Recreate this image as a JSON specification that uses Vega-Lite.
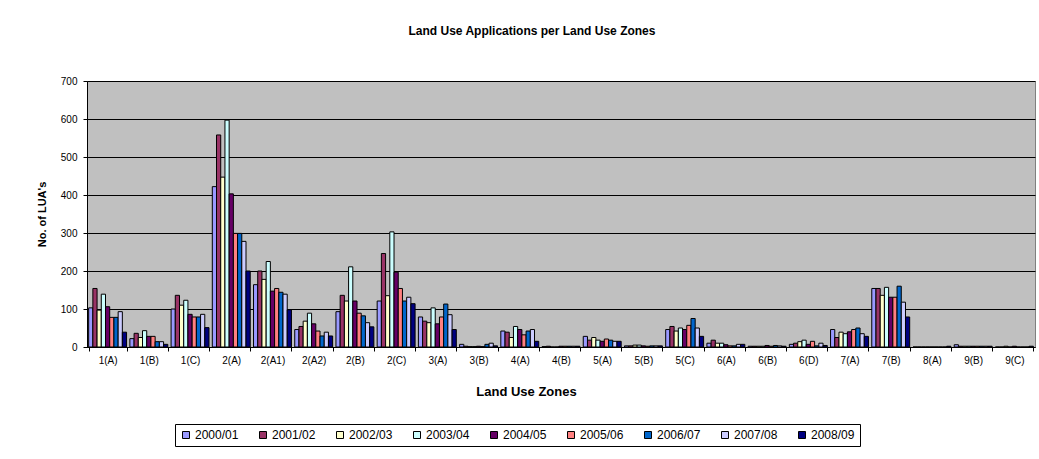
{
  "$schema": "https://vega.github.io/schema/vega-lite/v6.json",
  "width": 948,
  "height": 266,
  "autosize": {"type": "none"},
  "padding": {"left": 87, "top": 81, "right": 4, "bottom": 112},
  "background": "white",
  "title": {"text": "Land Use Applications per Land Use Zones", "fontSize": 12, "fontWeight": "bold", "color": "black", "offset": 38, "dx": -29, "anchor": "middle", "frame": "group"},
  "data": {"values": [
    {"zone":"1(A)","year":"2000/01","count":103},{"zone":"1(A)","year":"2001/02","count":154},{"zone":"1(A)","year":"2002/03","count":97},{"zone":"1(A)","year":"2003/04","count":139},{"zone":"1(A)","year":"2004/05","count":106},{"zone":"1(A)","year":"2005/06","count":78},{"zone":"1(A)","year":"2006/07","count":78},{"zone":"1(A)","year":"2007/08","count":93},{"zone":"1(A)","year":"2008/09","count":39},
    {"zone":"1(B)","year":"2000/01","count":22},{"zone":"1(B)","year":"2001/02","count":36},{"zone":"1(B)","year":"2002/03","count":25},{"zone":"1(B)","year":"2003/04","count":43},{"zone":"1(B)","year":"2004/05","count":28},{"zone":"1(B)","year":"2005/06","count":28},{"zone":"1(B)","year":"2006/07","count":14},{"zone":"1(B)","year":"2007/08","count":14},{"zone":"1(B)","year":"2008/09","count":7},
    {"zone":"1(C)","year":"2000/01","count":100},{"zone":"1(C)","year":"2001/02","count":136},{"zone":"1(C)","year":"2002/03","count":110},{"zone":"1(C)","year":"2003/04","count":123},{"zone":"1(C)","year":"2004/05","count":86},{"zone":"1(C)","year":"2005/06","count":79},{"zone":"1(C)","year":"2006/07","count":79},{"zone":"1(C)","year":"2007/08","count":86},{"zone":"1(C)","year":"2008/09","count":51},
    {"zone":"2(A)","year":"2000/01","count":422},{"zone":"2(A)","year":"2001/02","count":558},{"zone":"2(A)","year":"2002/03","count":447},{"zone":"2(A)","year":"2003/04","count":597},{"zone":"2(A)","year":"2004/05","count":403},{"zone":"2(A)","year":"2005/06","count":299},{"zone":"2(A)","year":"2006/07","count":299},{"zone":"2(A)","year":"2007/08","count":278},{"zone":"2(A)","year":"2008/09","count":200},
    {"zone":"2(A1)","year":"2000/01","count":164},{"zone":"2(A1)","year":"2001/02","count":200},{"zone":"2(A1)","year":"2002/03","count":178},{"zone":"2(A1)","year":"2003/04","count":225},{"zone":"2(A1)","year":"2004/05","count":147},{"zone":"2(A1)","year":"2005/06","count":154},{"zone":"2(A1)","year":"2006/07","count":144},{"zone":"2(A1)","year":"2007/08","count":139},{"zone":"2(A1)","year":"2008/09","count":98},
    {"zone":"2(A2)","year":"2000/01","count":46},{"zone":"2(A2)","year":"2001/02","count":54},{"zone":"2(A2)","year":"2002/03","count":68},{"zone":"2(A2)","year":"2003/04","count":89},{"zone":"2(A2)","year":"2004/05","count":61},{"zone":"2(A2)","year":"2005/06","count":42},{"zone":"2(A2)","year":"2006/07","count":29},{"zone":"2(A2)","year":"2007/08","count":39},{"zone":"2(A2)","year":"2008/09","count":29},
    {"zone":"2(B)","year":"2000/01","count":93},{"zone":"2(B)","year":"2001/02","count":136},{"zone":"2(B)","year":"2002/03","count":121},{"zone":"2(B)","year":"2003/04","count":211},{"zone":"2(B)","year":"2004/05","count":121},{"zone":"2(B)","year":"2005/06","count":89},{"zone":"2(B)","year":"2006/07","count":82},{"zone":"2(B)","year":"2007/08","count":64},{"zone":"2(B)","year":"2008/09","count":53},
    {"zone":"2(C)","year":"2000/01","count":121},{"zone":"2(C)","year":"2001/02","count":246},{"zone":"2(C)","year":"2002/03","count":135},{"zone":"2(C)","year":"2003/04","count":303},{"zone":"2(C)","year":"2004/05","count":197},{"zone":"2(C)","year":"2005/06","count":154},{"zone":"2(C)","year":"2006/07","count":121},{"zone":"2(C)","year":"2007/08","count":131},{"zone":"2(C)","year":"2008/09","count":114},
    {"zone":"3(A)","year":"2000/01","count":79},{"zone":"3(A)","year":"2001/02","count":68},{"zone":"3(A)","year":"2002/03","count":64},{"zone":"3(A)","year":"2003/04","count":103},{"zone":"3(A)","year":"2004/05","count":61},{"zone":"3(A)","year":"2005/06","count":79},{"zone":"3(A)","year":"2006/07","count":113},{"zone":"3(A)","year":"2007/08","count":85},{"zone":"3(A)","year":"2008/09","count":46},
    {"zone":"3(B)","year":"2000/01","count":7},{"zone":"3(B)","year":"2001/02","count":2},{"zone":"3(B)","year":"2002/03","count":1},{"zone":"3(B)","year":"2003/04","count":1},{"zone":"3(B)","year":"2004/05","count":2},{"zone":"3(B)","year":"2005/06","count":1},{"zone":"3(B)","year":"2006/07","count":7},{"zone":"3(B)","year":"2007/08","count":10},{"zone":"3(B)","year":"2008/09","count":3},
    {"zone":"4(A)","year":"2000/01","count":42},{"zone":"4(A)","year":"2001/02","count":39},{"zone":"4(A)","year":"2002/03","count":25},{"zone":"4(A)","year":"2003/04","count":54},{"zone":"4(A)","year":"2004/05","count":46},{"zone":"4(A)","year":"2005/06","count":32},{"zone":"4(A)","year":"2006/07","count":42},{"zone":"4(A)","year":"2007/08","count":46},{"zone":"4(A)","year":"2008/09","count":15},
    {"zone":"4(B)","year":"2000/01","count":1},{"zone":"4(B)","year":"2001/02","count":2},{"zone":"4(B)","year":"2002/03","count":0},{"zone":"4(B)","year":"2003/04","count":0},{"zone":"4(B)","year":"2004/05","count":2},{"zone":"4(B)","year":"2005/06","count":2},{"zone":"4(B)","year":"2006/07","count":2},{"zone":"4(B)","year":"2007/08","count":2},{"zone":"4(B)","year":"2008/09","count":2},
    {"zone":"5(A)","year":"2000/01","count":28},{"zone":"5(A)","year":"2001/02","count":18},{"zone":"5(A)","year":"2002/03","count":25},{"zone":"5(A)","year":"2003/04","count":18},{"zone":"5(A)","year":"2004/05","count":15},{"zone":"5(A)","year":"2005/06","count":21},{"zone":"5(A)","year":"2006/07","count":18},{"zone":"5(A)","year":"2007/08","count":15},{"zone":"5(A)","year":"2008/09","count":15},
    {"zone":"5(B)","year":"2000/01","count":3},{"zone":"5(B)","year":"2001/02","count":3},{"zone":"5(B)","year":"2002/03","count":5},{"zone":"5(B)","year":"2003/04","count":5},{"zone":"5(B)","year":"2004/05","count":3},{"zone":"5(B)","year":"2005/06","count":2},{"zone":"5(B)","year":"2006/07","count":3},{"zone":"5(B)","year":"2007/08","count":3},{"zone":"5(B)","year":"2008/09","count":3},
    {"zone":"5(C)","year":"2000/01","count":46},{"zone":"5(C)","year":"2001/02","count":54},{"zone":"5(C)","year":"2002/03","count":42},{"zone":"5(C)","year":"2003/04","count":50},{"zone":"5(C)","year":"2004/05","count":46},{"zone":"5(C)","year":"2005/06","count":57},{"zone":"5(C)","year":"2006/07","count":75},{"zone":"5(C)","year":"2007/08","count":50},{"zone":"5(C)","year":"2008/09","count":28},
    {"zone":"6(A)","year":"2000/01","count":10},{"zone":"6(A)","year":"2001/02","count":18},{"zone":"6(A)","year":"2002/03","count":10},{"zone":"6(A)","year":"2003/04","count":10},{"zone":"6(A)","year":"2004/05","count":6},{"zone":"6(A)","year":"2005/06","count":3},{"zone":"6(A)","year":"2006/07","count":3},{"zone":"6(A)","year":"2007/08","count":7},{"zone":"6(A)","year":"2008/09","count":7},
    {"zone":"6(B)","year":"2000/01","count":2},{"zone":"6(B)","year":"2001/02","count":2},{"zone":"6(B)","year":"2002/03","count":2},{"zone":"6(B)","year":"2003/04","count":2},{"zone":"6(B)","year":"2004/05","count":4},{"zone":"6(B)","year":"2005/06","count":2},{"zone":"6(B)","year":"2006/07","count":4},{"zone":"6(B)","year":"2007/08","count":3},{"zone":"6(B)","year":"2008/09","count":2},
    {"zone":"6(D)","year":"2000/01","count":7},{"zone":"6(D)","year":"2001/02","count":10},{"zone":"6(D)","year":"2002/03","count":14},{"zone":"6(D)","year":"2003/04","count":18},{"zone":"6(D)","year":"2004/05","count":7},{"zone":"6(D)","year":"2005/06","count":15},{"zone":"6(D)","year":"2006/07","count":3},{"zone":"6(D)","year":"2007/08","count":10},{"zone":"6(D)","year":"2008/09","count":4},
    {"zone":"7(A)","year":"2000/01","count":46},{"zone":"7(A)","year":"2001/02","count":25},{"zone":"7(A)","year":"2002/03","count":39},{"zone":"7(A)","year":"2003/04","count":35},{"zone":"7(A)","year":"2004/05","count":40},{"zone":"7(A)","year":"2005/06","count":46},{"zone":"7(A)","year":"2006/07","count":50},{"zone":"7(A)","year":"2007/08","count":35},{"zone":"7(A)","year":"2008/09","count":28},
    {"zone":"7(B)","year":"2000/01","count":154},{"zone":"7(B)","year":"2001/02","count":154},{"zone":"7(B)","year":"2002/03","count":136},{"zone":"7(B)","year":"2003/04","count":157},{"zone":"7(B)","year":"2004/05","count":131},{"zone":"7(B)","year":"2005/06","count":131},{"zone":"7(B)","year":"2006/07","count":160},{"zone":"7(B)","year":"2007/08","count":118},{"zone":"7(B)","year":"2008/09","count":79},
    {"zone":"8(A)","year":"2000/01","count":0},{"zone":"8(A)","year":"2001/02","count":0},{"zone":"8(A)","year":"2002/03","count":0},{"zone":"8(A)","year":"2003/04","count":0},{"zone":"8(A)","year":"2004/05","count":0},{"zone":"8(A)","year":"2005/06","count":0},{"zone":"8(A)","year":"2006/07","count":0},{"zone":"8(A)","year":"2007/08","count":0},{"zone":"8(A)","year":"2008/09","count":2},
    {"zone":"9(B)","year":"2000/01","count":6},{"zone":"9(B)","year":"2001/02","count":2},{"zone":"9(B)","year":"2002/03","count":2},{"zone":"9(B)","year":"2003/04","count":2},{"zone":"9(B)","year":"2004/05","count":2},{"zone":"9(B)","year":"2005/06","count":2},{"zone":"9(B)","year":"2006/07","count":2},{"zone":"9(B)","year":"2007/08","count":2},{"zone":"9(B)","year":"2008/09","count":2},
    {"zone":"9(C)","year":"2000/01","count":0},{"zone":"9(C)","year":"2001/02","count":0},{"zone":"9(C)","year":"2002/03","count":2},{"zone":"9(C)","year":"2003/04","count":0},{"zone":"9(C)","year":"2004/05","count":2},{"zone":"9(C)","year":"2005/06","count":0},{"zone":"9(C)","year":"2006/07","count":0},{"zone":"9(C)","year":"2007/08","count":0},{"zone":"9(C)","year":"2008/09","count":2}
  ]},
  "mark": {"type": "bar", "stroke": "black", "strokeWidth": 1},
  "encoding": {
    "x": {
      "field": "zone", "type": "nominal", "sort": null,
      "scale": {"paddingInner": 0.08, "paddingOuter": 0.04},
      "axis": {"title": "Land Use Zones", "titleFontSize": 13, "titleFontWeight": "bold", "titlePadding": 20, "titleX": 439, "labelAngle": 0, "labelFontSize": 10, "labelPadding": 4, "tickBand": "extent", "tickSize": 4, "tickColor": "black", "domainColor": "black", "grid": false, "labelColor": "black", "titleColor": "black"}
    },
    "xOffset": {"field": "year", "type": "nominal", "scale": {"domain": ["2000/01","2001/02","2002/03","2003/04","2004/05","2005/06","2006/07","2007/08","2008/09"], "paddingInner": 0, "paddingOuter": 0}},
    "y": {
      "field": "count", "type": "quantitative",
      "scale": {"domain": [0, 700], "nice": false},
      "axis": {"title": "No. of LUA's", "titleFontSize": 11, "titleFontWeight": "bold", "titlePadding": 13, "values": [0,100,200,300,400,500,600,700], "labelFontSize": 10, "labelPadding": 6, "tickSize": 4, "tickColor": "black", "domainColor": "black", "grid": true, "gridColor": "black", "gridOpacity": 1, "gridWidth": 1, "labelColor": "black", "titleColor": "black"}
    },
    "color": {
      "field": "year", "type": "nominal",
      "scale": {"domain": ["2000/01","2001/02","2002/03","2003/04","2004/05","2005/06","2006/07","2007/08","2008/09"], "range": ["#9999FF","#993366","#FFFFCC","#CCFFFF","#660066","#FF8080","#0066CC","#CCCCFF","#000080"]},
      "legend": {"title": null, "orient": "none", "legendX": 88, "legendY": 343, "direction": "horizontal", "columns": 9, "symbolType": "square", "symbolSize": 49, "symbolStrokeColor": "black", "symbolStrokeWidth": 1, "labelFontSize": 12, "labelColor": "black", "columnPadding": 18, "labelOffset": 3, "padding": 5, "strokeColor": "black", "fillColor": "white"}
    }
  },
  "config": {
    "font": "Liberation Sans",
    "view": {"fill": "#C0C0C0", "stroke": "#808080"}
  }
}
